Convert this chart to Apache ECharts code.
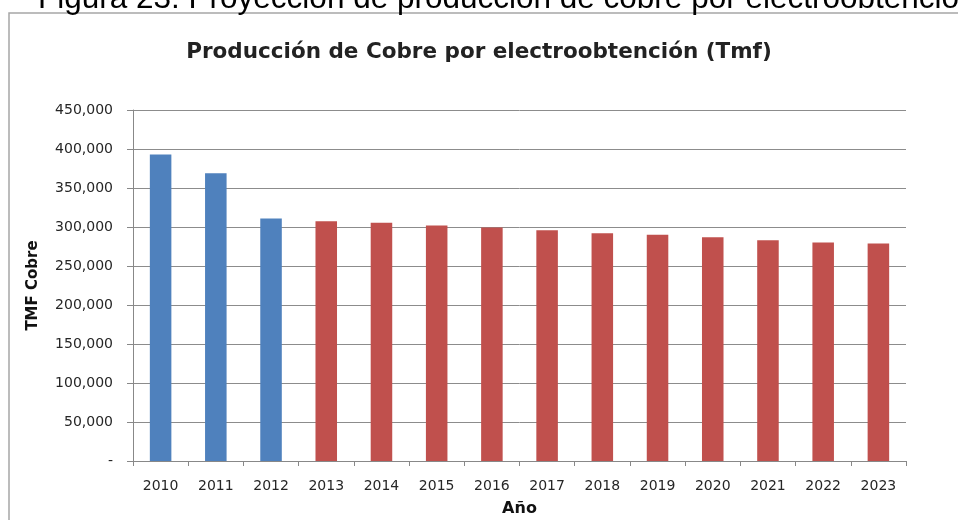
<!DOCTYPE html>
<html>
<head>
<meta charset="utf-8">
<script src="https://cdn.jsdelivr.net/npm/echarts@6/dist/echarts.min.js"></script>
<style>
  html, body { margin: 0; padding: 0; background: #ffffff; }
  #chart { width: 958px; height: 520px; }
</style>
</head>
<body>
<div id="chart"></div>
<script>
// Producción de cobre por electroobtención, toneladas de cobre fino
const years = ['2010', '2011', '2012', '2013', '2014', '2015', '2016',
               '2017', '2018', '2019', '2020', '2021', '2022', '2023'];
const production = [393000, 369000, 311000, 307500, 305500, 302000, 299500,
                    295800, 292000, 290000, 287000, 283000, 280000, 278800];
// 'real' = historical years, 'proy' = projected years
const kind = ['real', 'real', 'real', 'proy', 'proy', 'proy', 'proy',
              'proy', 'proy', 'proy', 'proy', 'proy', 'proy', 'proy'];
const yTicks = [0, 50000, 100000, 150000, 200000, 250000, 300000, 350000, 400000, 450000];

const colors = { real: '#4f81bd', proy: '#c0504d' };

const chart = echarts.init(document.getElementById('chart'), null, { renderer: 'canvas' });

const fmt = v => (v === 0 ? '-' : v.toLocaleString('en-US'));

chart.setOption({
  backgroundColor: '#ffffff',
  animation: false,
  title: {
    text: 'Producción de Cobre por electroobtención (Tmf)',
    left: 'center',
    top: 36,
    textStyle: { fontFamily: 'DejaVu Sans', fontSize: 21.5, fontWeight: 'bold', color: '#222222' }
  },
  graphic: [
    {
      type: 'rect',
      shape: { x: 9, y: 13, width: 980, height: 540 },
      style: { fill: 'none', stroke: '#a6a6a6', lineWidth: 1.5 },
      silent: true
    },
    {
      type: 'text',
      left: 38,
      top: -17,
      style: {
        text: 'Figura 23: Proyección de producción de cobre por electroobtención',
        font: '31.5px "Liberation Sans", Arial, sans-serif',
        fill: '#000000'
      },
      silent: true
    }
  ],
  grid: { left: 133, right: 52, top: 110, bottom: 59, containLabel: false, outerBoundsMode: 'none' },
  xAxis: {
    type: 'category',
    data: years,
    name: 'Año',
    nameLocation: 'middle',
    nameGap: 40,
    nameTextStyle: { fontFamily: 'DejaVu Sans', fontSize: 16, fontWeight: 'bold', color: '#111' },
    axisLine: { lineStyle: { color: '#888888', width: 1 } },
    axisTick: { show: true, length: 5, lineStyle: { color: '#888888' } },
    axisLabel: { margin: 18, fontFamily: 'DejaVu Sans', fontSize: 14, color: '#262626' }
  },
  yAxis: {
    type: 'value',
    min: yTicks[0],
    max: yTicks[yTicks.length - 1],
    interval: yTicks[1] - yTicks[0],
    name: 'TMF Cobre',
    nameLocation: 'middle',
    nameRotate: 90,
    nameGap: 92,
    nameTextStyle: { fontFamily: 'DejaVu Sans', fontSize: 15, fontWeight: 'bold', color: '#111' },
    axisLine: { show: true, lineStyle: { color: '#888888', width: 1 } },
    axisTick: { show: true, length: 6, lineStyle: { color: '#888888' } },
    splitLine: { show: true, lineStyle: { color: '#8c8c8c', width: 1 } },
    axisLabel: { margin: 20, fontFamily: 'DejaVu Sans', fontSize: 14, color: '#262626', formatter: fmt }
  },
  series: [
    {
      type: 'bar',
      barWidth: '39%',
      data: production.map((v, i) => ({ value: v, itemStyle: { color: colors[kind[i]] } }))
    }
  ]
});
</script>
</body>
</html>
